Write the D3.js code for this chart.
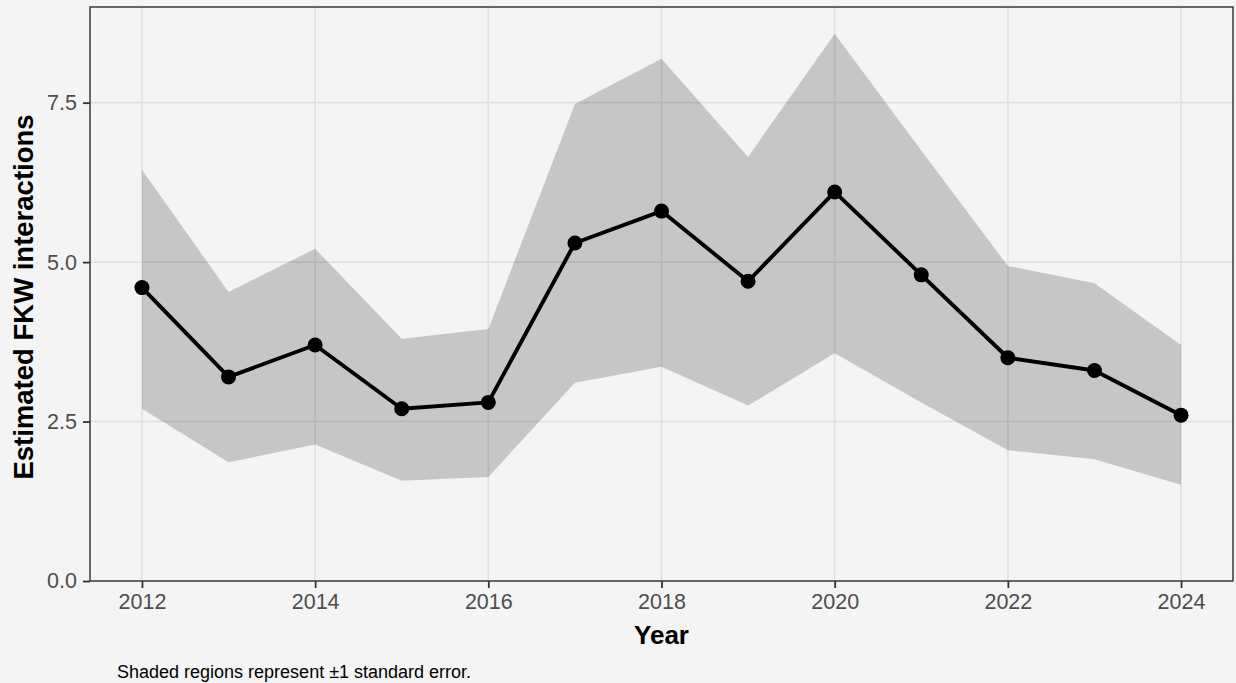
<!DOCTYPE html>
<html>
<head>
<meta charset="utf-8">
<script src="https://cdn.jsdelivr.net/npm/d3@7"></script>
<style>
  html, body { margin: 0; padding: 0; background: #f4f4f4; }
  svg { display: block; }
  text { font-family: "Liberation Sans", Arial, Helvetica, sans-serif; }
</style>
</head>
<body>
<svg id="chart" width="1236" height="683"></svg>
<script>
const years = [2012, 2013, 2014, 2015, 2016, 2017, 2018, 2019, 2020, 2021, 2022, 2023, 2024];
const estimate = [4.6, 3.2, 3.7, 2.7, 2.8, 5.3, 5.8, 4.7, 6.1, 4.8, 3.5, 3.3, 2.6];
const upper = [6.45, 4.53, 5.21, 3.80, 3.95, 7.48, 8.19, 6.65, 8.58, 6.75, 4.94, 4.67, 3.70];
const lower = [2.70, 1.86, 2.14, 1.57, 1.63, 3.11, 3.36, 2.75, 3.57, 2.80, 2.05, 1.91, 1.51];
const xTicks = [2012, 2014, 2016, 2018, 2020, 2022, 2024];
const yTicks = [0, 2.5, 5.0, 7.5];
const xTitle = "Year";
const yTitle = "Estimated FKW interactions";
const caption = "Shaded regions represent \u00b11 standard error.";

const svg = d3.select("#chart");
const panel = { left: 90, right: 1233, top: 7, bottom: 581 };

const x = d3.scaleLinear().domain([2011.4, 2024.6]).range([panel.left, panel.right]);
const y = d3.scaleLinear().domain([0, 9.0]).range([panel.bottom, panel.top]);

const data = years.map((yr, i) => ({ year: yr, est: estimate[i], lo: lower[i], hi: upper[i] }));

// background
svg.append("rect").attr("width", 1236).attr("height", 683).attr("fill", "#f4f4f4");

// grid
const grid = svg.append("g");
grid.selectAll(".gx").data(xTicks).join("line")
  .attr("x1", d => x(d)).attr("x2", d => x(d))
  .attr("y1", panel.top).attr("y2", panel.bottom)
  .attr("stroke", "#e0e0e0").attr("stroke-width", 1.6);
grid.selectAll(".gy").data(yTicks).join("line")
  .attr("y1", d => y(d)).attr("y2", d => y(d))
  .attr("x1", panel.left).attr("x2", panel.right)
  .attr("stroke", "#e0e0e0").attr("stroke-width", 1.6);

// ribbon
const area = d3.area().x(d => x(d.year)).y0(d => y(d.lo)).y1(d => y(d.hi));
svg.append("path").datum(data).attr("d", area)
  .attr("fill", "#000").attr("fill-opacity", 0.19);

// line
const line = d3.line().x(d => x(d.year)).y(d => y(d.est));
svg.append("path").datum(data).attr("d", line)
  .attr("fill", "none").attr("stroke", "#000").attr("stroke-width", 3.9)
  .attr("stroke-linejoin", "round");

// points
svg.selectAll(".pt").data(data).join("circle")
  .attr("cx", d => x(d.year)).attr("cy", d => y(d.est)).attr("r", 7.5)
  .attr("fill", "#000");

// panel border
svg.append("rect")
  .attr("x", panel.left).attr("y", panel.top)
  .attr("width", panel.right - panel.left).attr("height", panel.bottom - panel.top)
  .attr("fill", "none").attr("stroke", "#3a3a3a").attr("stroke-width", 1.5);

// axes
const xAxis = d3.axisBottom(x).tickValues(xTicks).tickFormat(d3.format("d")).tickSize(7).tickPadding(6);
const gx = svg.append("g").attr("transform", `translate(0,${panel.bottom})`).call(xAxis);
gx.select(".domain").remove();
gx.selectAll(".tick line").attr("stroke", "#333").attr("stroke-width", 1.8);
gx.selectAll(".tick text").attr("fill", "#4d4d4d").attr("font-size", 21.5)
  .style("font-family", "'Liberation Sans', Arial, sans-serif");

const yAxis = d3.axisLeft(y).tickValues(yTicks).tickFormat(d3.format(".1f")).tickSize(7).tickPadding(6);
const gy = svg.append("g").attr("transform", `translate(${panel.left},0)`).call(yAxis);
gy.select(".domain").remove();
gy.selectAll(".tick line").attr("stroke", "#333").attr("stroke-width", 1.8);
gy.selectAll(".tick text").attr("fill", "#4d4d4d").attr("font-size", 21.5)
  .style("font-family", "'Liberation Sans', Arial, sans-serif");

// titles
svg.append("text").attr("x", (panel.left + panel.right) / 2).attr("y", 644)
  .attr("text-anchor", "middle").attr("font-size", 26).attr("font-weight", "bold")
  .attr("fill", "#000").text(xTitle);
svg.append("text").attr("transform", `translate(33,${(panel.top + panel.bottom) / 2 + 3}) rotate(-90)`)
  .attr("text-anchor", "middle").attr("font-size", 27.5).attr("font-weight", "bold")
  .attr("fill", "#000").text(yTitle);
svg.append("text").attr("x", 117).attr("y", 678)
  .attr("font-size", 18).attr("fill", "#000").text(caption);
</script>
</body>
</html>
